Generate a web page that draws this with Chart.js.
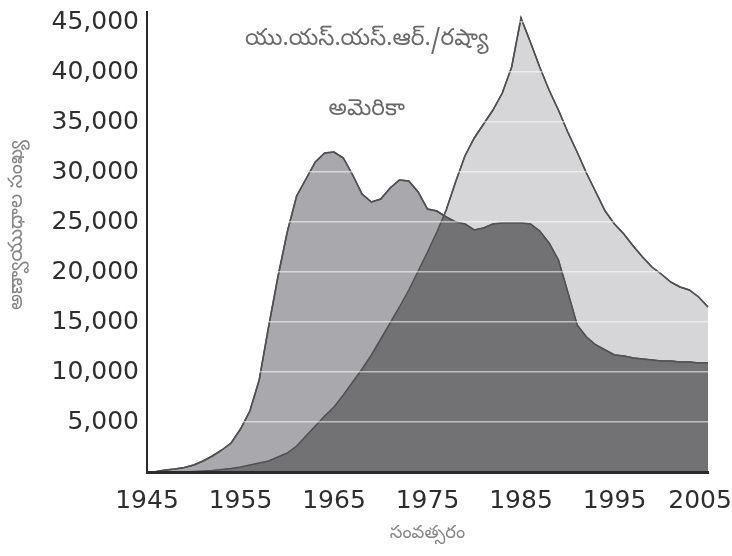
<!DOCTYPE html>
<html>
<head>
<meta charset="utf-8">
<script src="https://cdn.jsdelivr.net/npm/chart.js@4.4.1/dist/chart.umd.min.js"></script>
<style>
  html, body { margin: 0; padding: 0; background: #ffffff; }
  #wrap { width: 732px; height: 556px; }
</style>
</head>
<body>
<div id="wrap"><canvas id="c" width="732" height="556"></canvas></div>
<script>
// ---- data ----
const years = [1945,1946,1947,1948,1949,1950,1951,1952,1953,1954,
               1955,1956,1957,1958,1959,1960,1961,1962,1963,1964,
               1965,1966,1967,1968,1969,1970,1971,1972,1973,1974,
               1975,1976,1977,1978,1979,1980,1981,1982,1983,1984,
               1985,1986,1987,1988,1989,1990,1991,1992,1993,1994,
               1995,1996,1997,1998,1999,2000,2001,2002,2003,2004,2005];

const usaValues = [0,50,200,300,450,700,1100,1600,2200,2900,
                   4300,6100,9200,14500,19500,24000,27600,29300,31000,31900,
                   32000,31400,29700,27800,27000,27300,28400,29200,29100,28000,
                   26300,26100,25500,25000,24800,24200,24400,24800,24900,24900,
                   24900,24800,24100,22900,21200,18000,14700,13500,12700,12200,
                   11700,11600,11400,11300,11200,11100,11100,11000,11000,10900,10900];

const ussrValues = [0,0,0,0,10,50,100,150,250,350,
                    500,700,900,1100,1500,1900,2600,3600,4600,5600,
                    6500,7700,9000,10300,11700,13300,14900,16500,18200,20100,
                    22000,24000,26200,29000,31600,33400,34800,36200,37900,40500,
                    45400,43000,40500,38200,36200,34000,32000,29900,28000,26100,
                    24800,23800,22600,21500,20500,19800,19000,18500,18200,17500,16500];

const seriesNames = ['అమెరికా', 'యు.యస్.యస్.ఆర్./రష్యా'];
const yTickValues = [5000,10000,15000,20000,25000,30000,35000,40000,45000];
const xTickValues = [1945,1955,1965,1975,1985,1995,2005];
const xTitle = 'సంవత్సరం';
const yTitle = 'అణ్వాయుధాల సంఖ్య';

// ---- styles ----
const TELUGU = '"Noto Sans Telugu", "Noto Sans", "DejaVu Sans", sans-serif';
const USA_FILL = '#a9a9ad';
const USSR_FILL = '#d6d6d9';
const OVERLAP_FILL = '#727274';
const EDGE = '#505052';

// annotation anchors in data units
const labelAnchors = [
  { text: seriesNames[1], x: 1968.5, y: 43000 },
  { text: seriesNames[0], x: 1968.5, y: 36000 }
];

const toPoints = (vals) => years.map((yr, i) => ({ x: yr, y: vals[i] }));

const overlapPlugin = {
  id: 'overlap',
  afterDatasetsDraw(chart) {
    const ctx = chart.ctx;
    const area = chart.chartArea;
    const base = chart.scales.y.getPixelForValue(0);
    const us = chart.getDatasetMeta(0).data;
    const su = chart.getDatasetMeta(1).data;
    ctx.save();
    ctx.beginPath();
    ctx.rect(area.left, area.top, area.right - area.left, area.bottom - area.top);
    ctx.clip();
    ctx.beginPath();
    ctx.moveTo(us[0].x, base);
    us.forEach(p => ctx.lineTo(p.x, p.y));
    ctx.lineTo(us[us.length - 1].x, base);
    ctx.closePath();
    ctx.clip();
    ctx.beginPath();
    ctx.moveTo(su[0].x, base);
    su.forEach(p => ctx.lineTo(p.x, p.y));
    ctx.lineTo(su[su.length - 1].x, base);
    ctx.closePath();
    ctx.fillStyle = OVERLAP_FILL;
    ctx.fill();
    ctx.restore();
    ctx.save();
    [1, 0].forEach(i => chart.getDatasetMeta(i).dataset.draw(ctx, area));
    ctx.restore();
  },
  afterDraw(chart) {
    const ctx = chart.ctx;
    ctx.save();
    ctx.font = '23px ' + TELUGU;
    ctx.fillStyle = '#6a6a6a';
    ctx.textAlign = 'center';
    ctx.textBaseline = 'middle';
    labelAnchors.forEach(a => {
      ctx.fillText(a.text, chart.scales.x.getPixelForValue(a.x), chart.scales.y.getPixelForValue(a.y));
    });
    ctx.restore();
  }
};

new Chart(document.getElementById('c'), {
  type: 'line',
  data: {
    datasets: [
      {
        label: seriesNames[0],
        data: toPoints(usaValues),
        backgroundColor: USA_FILL,
        borderColor: EDGE,
        borderWidth: 1.5,
        fill: 'origin',
        pointRadius: 0,
        tension: 0
      },
      {
        label: seriesNames[1],
        data: toPoints(ussrValues),
        backgroundColor: USSR_FILL,
        borderColor: EDGE,
        borderWidth: 1.5,
        fill: 'origin',
        pointRadius: 0,
        tension: 0
      }
    ]
  },
  options: {
    responsive: false,
    devicePixelRatio: 1,
    animation: false,
    layout: { padding: { left: 0, right: 24, top: 12, bottom: 0 } },
    plugins: { legend: { display: false }, tooltip: { enabled: false } },
    scales: {
      x: {
        type: 'linear',
        min: 1945,
        max: 2005,
        z: 2,
        grid: { display: false, drawTicks: false },
        border: { display: true, color: '#2a2a2a', width: 3, z: 2 },
        afterBuildTicks: (s) => { s.ticks = xTickValues.map(v => ({ value: v })); },
        ticks: {
          padding: 14,
          maxRotation: 0,
          autoSkip: false,
          color: '#2e2e2e',
          font: { family: '"DejaVu Sans", sans-serif', size: 25 },
          callback: (v) => v === 2005 ? '2005\u00a0\u00a0' : String(v)
        },
        title: {
          display: true,
          text: xTitle,
          color: '#858585',
          font: { family: TELUGU, size: 18 },
          padding: { top: 0, bottom: 10 }
        },
        afterFit: (s) => { s.height = 84; s.paddingLeft = 0; s.paddingRight = 0; }
      },
      y: {
        min: 0,
        max: 46000,
        z: 1,
        grid: {
          z: 1,
          drawTicks: false,
          lineWidth: 1.5,
          color: (c) => (c.tick && c.tick.value === 0) ? 'rgba(0,0,0,0)' : 'rgba(255,255,255,0.55)'
        },
        border: { display: true, color: '#2a2a2a', width: 2, z: 2 },
        afterBuildTicks: (s) => { s.ticks = [0].concat(yTickValues).map(v => ({ value: v })); },
        ticks: {
          padding: 8,
          color: '#2e2e2e',
          font: { family: '"DejaVu Sans", sans-serif', size: 25 },
          callback: (v) => v === 0 ? '' : v.toLocaleString('en-US')
        },
        title: {
          display: true,
          text: '\u00a0\u00a0\u00a0\u00a0\u00a0\u00a0' + yTitle,
          color: '#858585',
          font: { family: TELUGU, size: 20 },
          padding: { top: 7, bottom: 4 }
        },
        afterFit: (s) => { s.width = 147; s.paddingTop = 0; s.paddingBottom = 0; }
      }
    }
  },
  plugins: [overlapPlugin]
});
</script>
</body>
</html>
